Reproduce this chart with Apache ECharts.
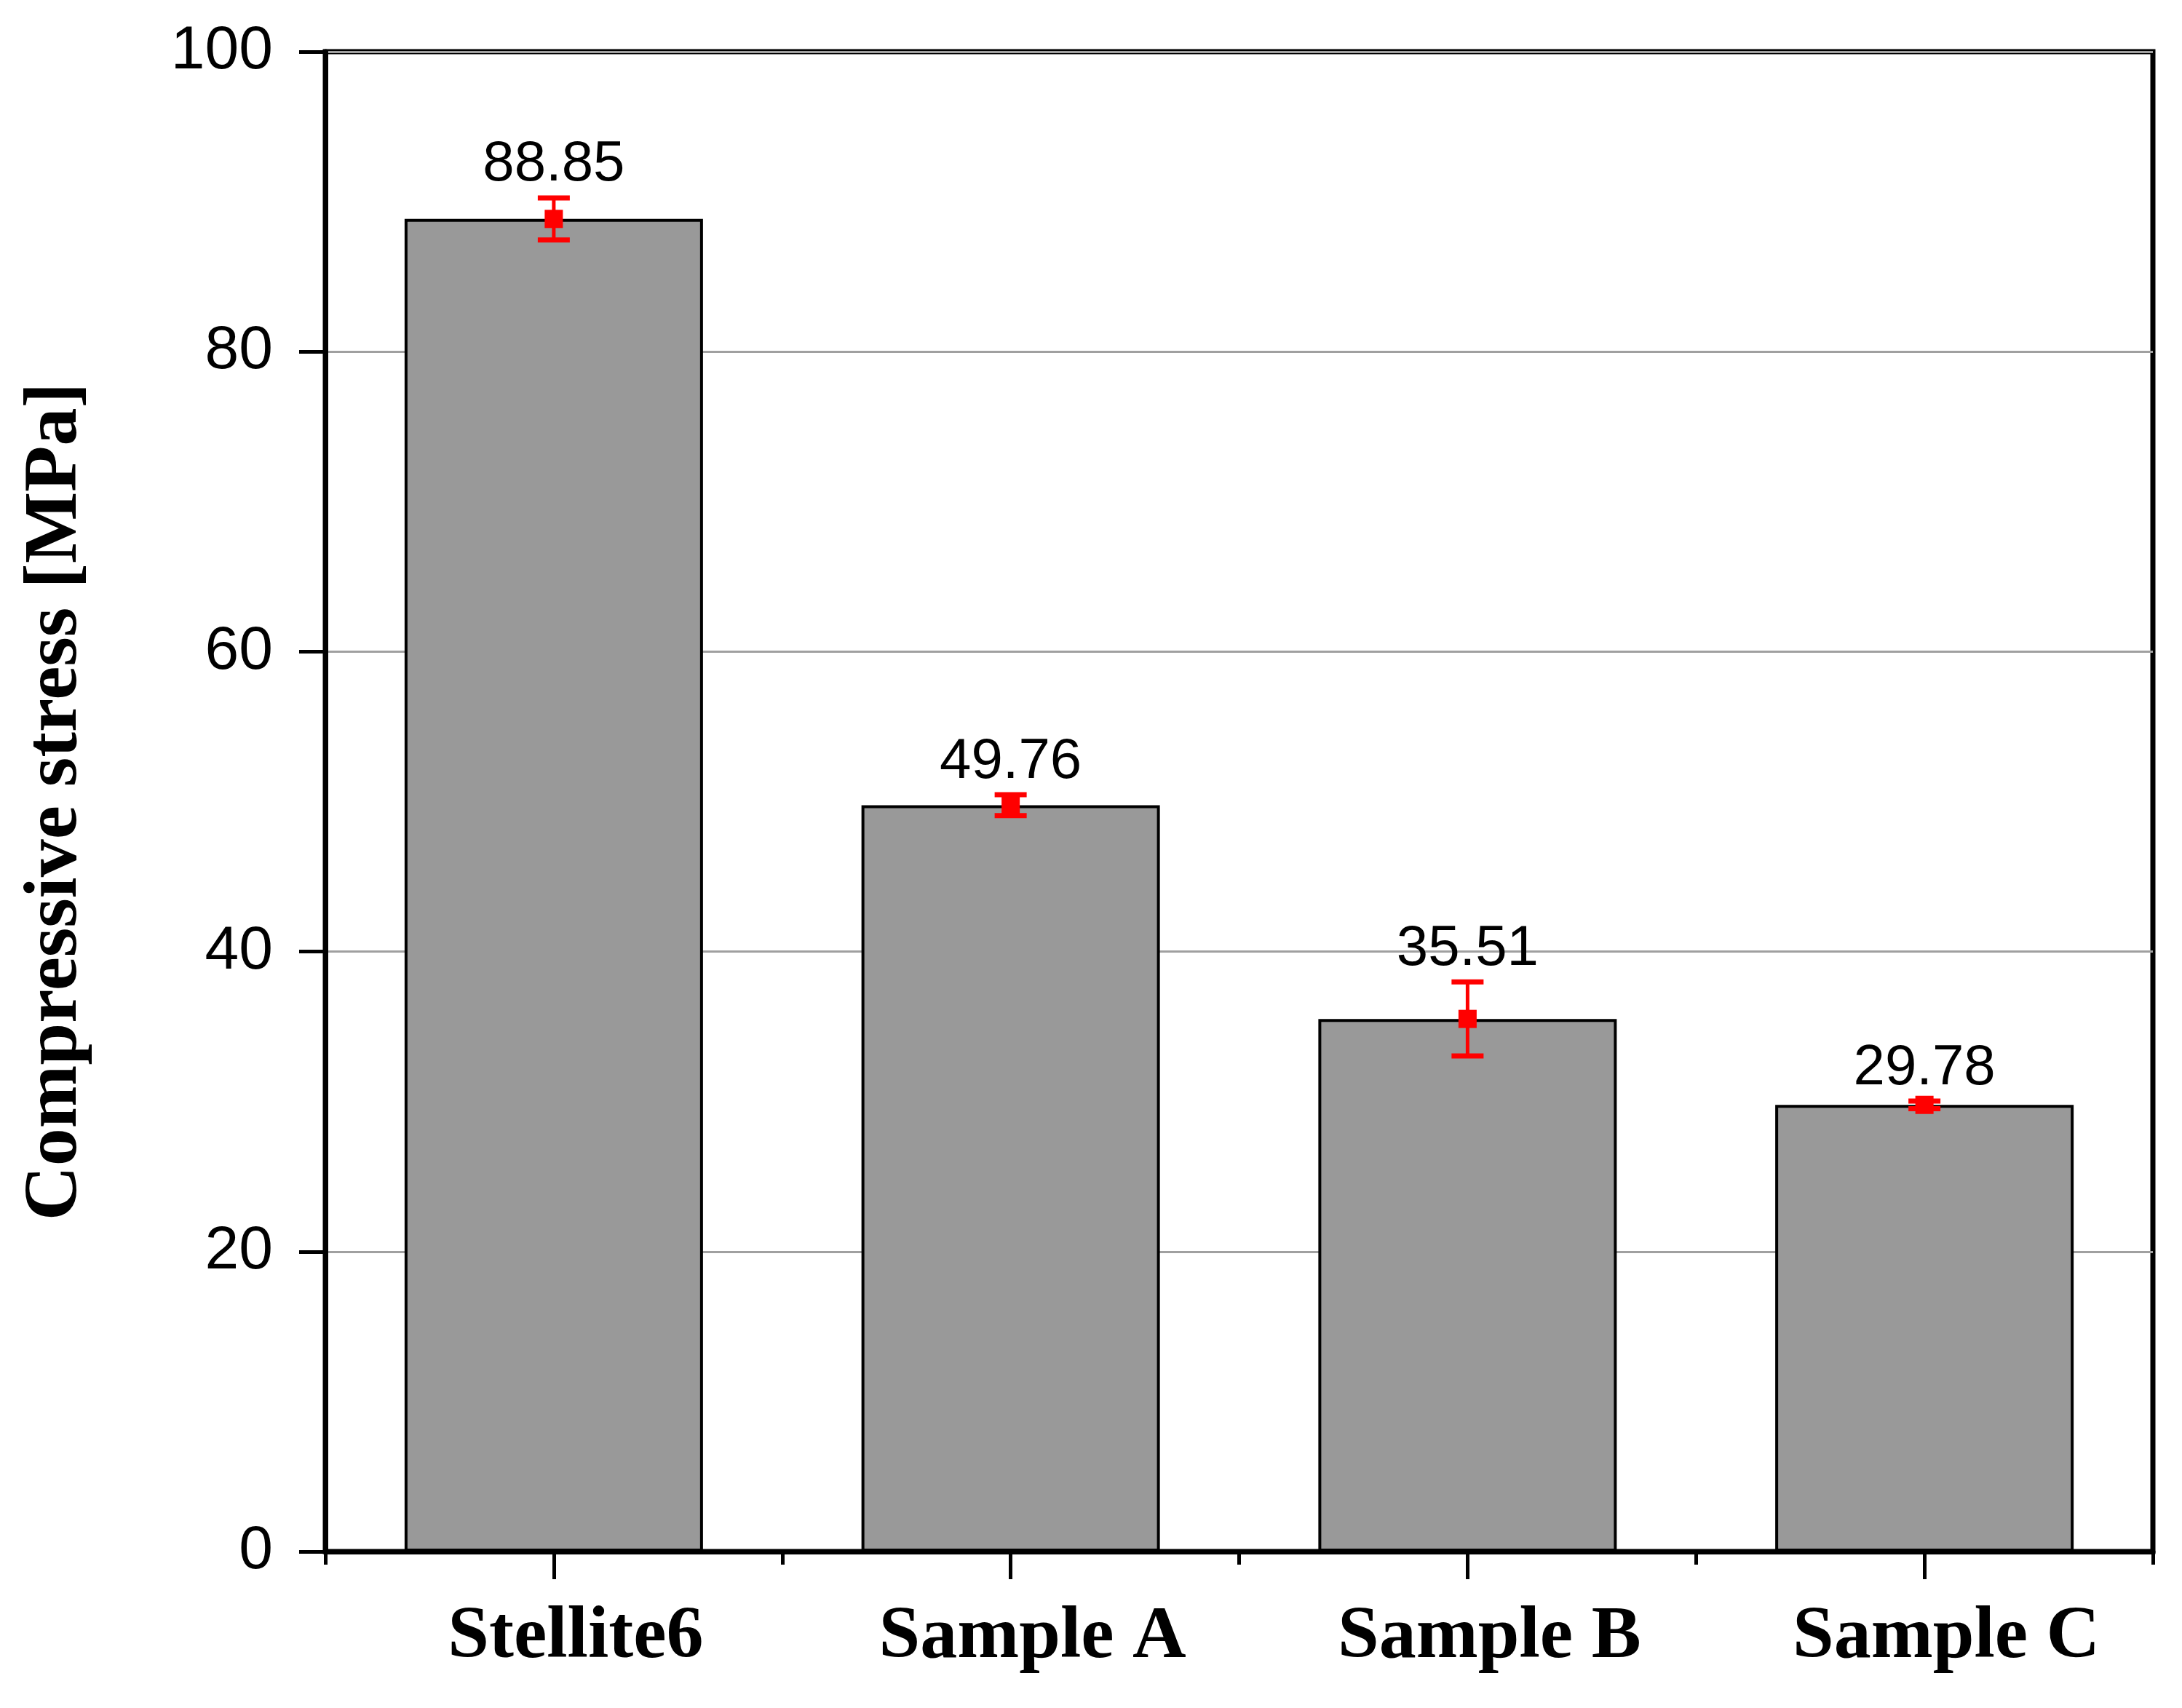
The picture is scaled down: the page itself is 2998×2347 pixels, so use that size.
<!DOCTYPE html>
<html>
<head>
<meta charset="utf-8">
<script src="https://cdn.jsdelivr.net/npm/echarts@6/dist/echarts.min.js"></script>
<style>
html,body{margin:0;padding:0;background:#fff;}
#chart{width:2998px;height:2347px;}
</style>
</head>
<body>
<div id="chart"></div>
<script>
const categories = ['Stellite6', 'Sample A', 'Sample B', 'Sample C'];
const stressValues = [88.85, 49.76, 35.51, 29.78];
const stressErrors = [1.4, 0.7, 2.47, 0.25];
const yTicks = [0, 20, 40, 60, 80, 100];
const yAxisTitle = 'Compressive stress [MPa]';

const chart = echarts.init(document.getElementById('chart'), null, {renderer: 'canvas'});

const errData = categories.map((c, i) => [i, stressValues[i], stressErrors[i]]);

const option = {
  animation: false,
  backgroundColor: '#ffffff',
  grid: {
    left: 447, right: 40, top: 71, bottom: 215,
    show: true, borderColor: '#000', borderWidth: 7, backgroundColor: 'transparent'
  },
  xAxis: [
    {
      type: 'category',
      data: categories,
      boundaryGap: true,
      axisLine: {show: true, lineStyle: {color: '#000', width: 7}},
      axisTick: {show: true, alignWithLabel: true, length: 38, lineStyle: {color: '#000', width: 5}},
      axisLabel: {
        margin: 68,
        padding: [0, 0, 0, 60],
        color: '#000',
        fontFamily: 'Liberation Serif',
        fontWeight: 'bold',
        fontSize: 102
      },
      splitLine: {show: false}
    },
    {
      type: 'category',
      data: categories,
      boundaryGap: true,
      position: 'bottom',
      axisLine: {show: false},
      axisTick: {show: true, alignWithLabel: false, length: 18, lineStyle: {color: '#000', width: 5}},
      axisLabel: {show: false},
      splitLine: {show: false}
    }
  ],
  yAxis: {
    type: 'value',
    min: yTicks[0],
    max: yTicks[yTicks.length - 1],
    interval: yTicks[1] - yTicks[0],
    name: yAxisTitle,
    nameLocation: 'middle',
    nameGap: 318,
    nameTextStyle: {
      color: '#000',
      fontFamily: 'Liberation Serif',
      fontWeight: 'bold',
      fontSize: 104
    },
    axisLine: {show: true, lineStyle: {color: '#000', width: 7}},
    axisTick: {show: true, inside: false, length: 36, lineStyle: {color: '#000', width: 5}},
    axisLabel: {
      margin: 72,
      color: '#000',
      fontFamily: 'Liberation Sans',
      fontSize: 84
    },
    splitLine: {show: true, lineStyle: {color: '#a0a0a0', width: 3}}
  },
  series: [
    {
      type: 'bar',
      xAxisIndex: 0,
      data: stressValues,
      barWidth: 410,
      itemStyle: {color: '#999999', borderColor: '#000', borderWidth: 4},
      z: 2
    },
    {
      type: 'custom',
      xAxisIndex: 0,
      data: errData,
      z: 5,
      renderItem: function (params, api) {
        const i = api.value(0);
        const v = api.value(1);
        const e = api.value(2);
        const pc = api.coord([i, v]);
        const pt = api.coord([i, v + e]);
        const pb = api.coord([i, v - e]);
        const x = pc[0];
        const capW = 44;
        const red = '#ff0000';
        return {
          type: 'group',
          children: [
            {type: 'line', shape: {x1: x, y1: pt[1], x2: x, y2: pb[1]}, style: {stroke: red, lineWidth: 5}},
            {type: 'line', shape: {x1: x - capW / 2, y1: pt[1], x2: x + capW / 2, y2: pt[1]}, style: {stroke: red, lineWidth: 7}},
            {type: 'line', shape: {x1: x - capW / 2, y1: pb[1], x2: x + capW / 2, y2: pb[1]}, style: {stroke: red, lineWidth: 7}},
            {type: 'rect', shape: {x: x - 12.5, y: pc[1] - 12.5, width: 25, height: 25}, style: {fill: red}},
            {type: 'text', x: x, y: pt[1] - 45,
              style: {text: stressValues[params.dataIndex].toFixed(2), fill: '#000',
                font: '78px "Liberation Sans"', align: 'center', verticalAlign: 'middle'}}
          ]
        };
      }
    }
  ]
};
chart.setOption(option);
</script>
</body>
</html>
